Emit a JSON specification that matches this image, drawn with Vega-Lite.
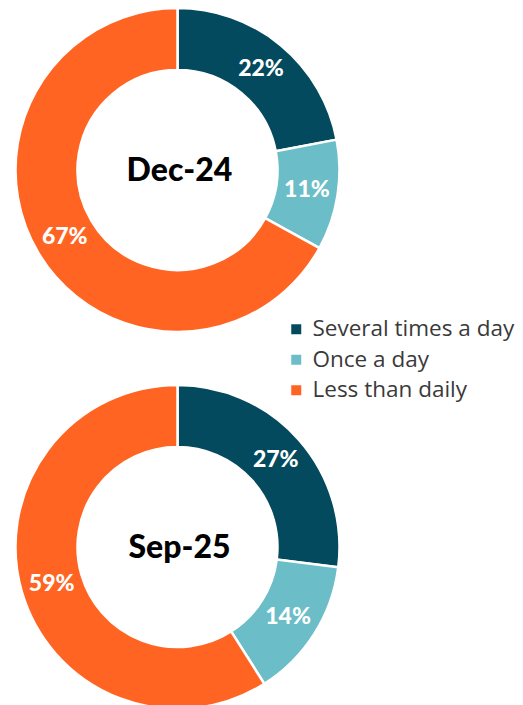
{
  "$schema": "https://vega.github.io/schema/vega-lite/v6.json",
  "padding": 0,
  "background": "white",
  "data": {
    "values": [
      {"period": "Dec-24", "freq": "Several times a day", "k": 1, "value": 22, "label": "22%"},
      {"period": "Dec-24", "freq": "Once a day", "k": 2, "value": 11, "label": "11%"},
      {"period": "Dec-24", "freq": "Less than daily", "k": 3, "value": 67, "label": "67%"},
      {"period": "Sep-25", "freq": "Several times a day", "k": 1, "value": 27, "label": "27%"},
      {"period": "Sep-25", "freq": "Once a day", "k": 2, "value": 14, "label": "14%"},
      {"period": "Sep-25", "freq": "Less than daily", "k": 3, "value": 59, "label": "59%"}
    ]
  },
  "facet": {
    "row": {"field": "period", "type": "nominal", "sort": ["Dec-24", "Sep-25"], "header": null}
  },
  "spacing": 37,
  "spec": {
    "width": 355,
    "height": 340,
    "view": {"stroke": null},
    "layer": [
      {
        "mark": {"type": "arc", "outerRadius": 162, "innerRadius": 100, "stroke": "white", "strokeWidth": 2.5},
        "encoding": {
          "theta": {"field": "value", "type": "quantitative", "stack": true},
          "order": {"field": "k", "type": "quantitative"},
          "color": {
            "field": "freq",
            "type": "nominal",
            "scale": {
              "domain": ["Several times a day", "Once a day", "Less than daily"],
              "range": ["#034A5E", "#6BBDC7", "#FF6422"]
            },
            "legend": {
              "title": null,
              "orient": "none",
              "legendX": 285,
              "legendY": 318,
              "symbolType": "square",
              "symbolSize": 100,
              "symbolStrokeWidth": 0,
              "symbolOpacity": 1,
              "labelFont": "Open Sans",
              "labelFontSize": 22.5,
              "labelColor": "#3a3a3a",
              "labelLimit": 300,
              "labelOffset": 5,
              "rowPadding": 7.5
            }
          }
        }
      },
      {
        "mark": {"type": "text", "radius": 131, "font": "Lato", "fontWeight": 900, "fontSize": 23, "color": "white", "align": "center", "baseline": "middle"},
        "encoding": {
          "theta": {"field": "value", "type": "quantitative", "stack": true},
          "order": {"field": "k", "type": "quantitative"},
          "text": {"field": "label", "type": "nominal"}
        }
      },
      {
        "transform": [{"filter": "datum.k == 1"}],
        "mark": {"type": "text", "font": "Lato", "fontWeight": 900, "fontSize": 32, "color": "black", "align": "center", "baseline": "middle", "dx": 2, "dy": 1},
        "encoding": {
          "text": {"field": "period", "type": "nominal"}
        }
      }
    ]
  },
  "config": {"view": {"stroke": null}}
}
